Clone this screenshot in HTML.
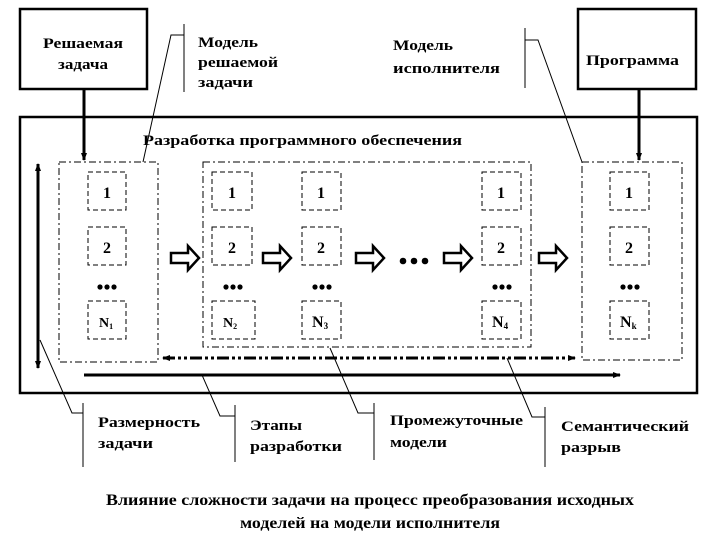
<!DOCTYPE html>
<html><head><meta charset="utf-8"><style>
html,body{margin:0;padding:0;background:#fff;}
svg{display:block;}
text{font-family:"Liberation Serif",serif;font-weight:bold;fill:#000;}
</style></head><body>
<svg width="720" height="540" viewBox="0 0 720 540" xmlns="http://www.w3.org/2000/svg">
<defs>
<marker id="ah" markerWidth="8" markerHeight="8" refX="7" refY="4" orient="auto" markerUnits="userSpaceOnUse"><path d="M0,1 L8,4 L0,7 Z" fill="#000"/></marker>
<marker id="ahs" markerWidth="8" markerHeight="8" refX="1" refY="4" orient="auto" markerUnits="userSpaceOnUse"><path d="M8,1 L0,4 L8,7 Z" fill="#000"/></marker>
</defs>
<!-- top boxes -->
<rect x="20" y="9" width="127" height="80" fill="none" stroke="#000" stroke-width="2.5"/>
<text x="83" y="48" font-size="15" text-anchor="middle" textLength="80" lengthAdjust="spacingAndGlyphs">Решаемая</text>
<text x="83" y="69" font-size="15" text-anchor="middle" textLength="50" lengthAdjust="spacingAndGlyphs">задача</text>
<rect x="578" y="9" width="118" height="80" fill="none" stroke="#000" stroke-width="2.5"/>
<text x="586" y="65" font-size="15" textLength="93" lengthAdjust="spacingAndGlyphs">Программа</text>
<line x1="84" y1="89" x2="84" y2="160" stroke="#000" stroke-width="3" marker-end="url(#ah)"/>
<line x1="639" y1="89" x2="639" y2="160" stroke="#000" stroke-width="3" marker-end="url(#ah)"/>

<!-- top labels -->
<line x1="184" y1="24" x2="184" y2="92" stroke="#000" stroke-width="1"/>
<polyline points="184,35 171,35 143,162" fill="none" stroke="#000" stroke-width="1"/>
<text x="198" y="47" font-size="15" textLength="60" lengthAdjust="spacingAndGlyphs">Модель</text>
<text x="198" y="67" font-size="15" textLength="80" lengthAdjust="spacingAndGlyphs">решаемой</text>
<text x="198" y="87" font-size="15" textLength="55" lengthAdjust="spacingAndGlyphs">задачи</text>
<line x1="525" y1="28" x2="525" y2="88" stroke="#000" stroke-width="1"/>
<polyline points="525,40 538,40 582,162" fill="none" stroke="#000" stroke-width="1"/>
<text x="393" y="50" font-size="15" textLength="60" lengthAdjust="spacingAndGlyphs">Модель</text>
<text x="393" y="73" font-size="15" textLength="107" lengthAdjust="spacingAndGlyphs">исполнителя</text>

<!-- outer box -->
<rect x="20" y="117" width="677" height="276" fill="none" stroke="#000" stroke-width="2.5"/>
<text x="143" y="145" font-size="15" textLength="319" lengthAdjust="spacingAndGlyphs">Разработка программного обеспечения</text>

<!-- groups -->
<g fill="none" stroke="#000" stroke-width="1" stroke-dasharray="7,3,2,3">
<rect x="59" y="162" width="99" height="200"/>
<rect x="203" y="162" width="328" height="185"/>
<rect x="582" y="162" width="100" height="198"/>
</g>
<g fill="none" stroke="#000" stroke-width="1" stroke-dasharray="5,3">
<rect x="88" y="172" width="38" height="38"/><rect x="88" y="227" width="38" height="38"/><rect x="88" y="301" width="38" height="38"/>
<rect x="212" y="172" width="40" height="38"/><rect x="212" y="227" width="40" height="38"/><rect x="212" y="301" width="43" height="38"/>
<rect x="302" y="172" width="39" height="38"/><rect x="302" y="227" width="39" height="38"/><rect x="302" y="301" width="39" height="38"/>
<rect x="482" y="172" width="39" height="38"/><rect x="482" y="227" width="39" height="38"/><rect x="482" y="301" width="39" height="38"/>
<rect x="610" y="172" width="39" height="38"/><rect x="610" y="227" width="39" height="38"/><rect x="610" y="301" width="39" height="38"/>
</g>
<g font-size="16" text-anchor="middle">
<text x="107" y="198">1</text><text x="107" y="253">2</text>
<text x="232" y="198">1</text><text x="232" y="253">2</text>
<text x="321" y="198">1</text><text x="321" y="253">2</text>
<text x="501" y="198">1</text><text x="501" y="253">2</text>
<text x="629" y="198">1</text><text x="629" y="253">2</text>
</g>
<g font-size="14">
<text x="99" y="327" font-weight="normal">N<tspan font-size="8" dy="2">1</tspan></text>
<text x="223" y="327" font-weight="normal">N<tspan font-size="8" dy="2">2</tspan></text>
<text x="312" y="327" font-size="16">N<tspan font-size="9" dy="2">3</tspan></text>
<text x="492" y="327" font-size="16">N<tspan font-size="9" dy="2">4</tspan></text>
<text x="620" y="327" font-size="16">N<tspan font-size="9" dy="2">k</tspan></text>
</g>
<g fill="#000">
<circle cx="100" cy="287" r="2.6"/><circle cx="107" cy="287" r="2.6"/><circle cx="114" cy="287" r="2.6"/>
<circle cx="226" cy="287" r="2.6"/><circle cx="233" cy="287" r="2.6"/><circle cx="240" cy="287" r="2.6"/>
<circle cx="315" cy="287" r="2.6"/><circle cx="322" cy="287" r="2.6"/><circle cx="329" cy="287" r="2.6"/>
<circle cx="495" cy="287" r="2.6"/><circle cx="502" cy="287" r="2.6"/><circle cx="509" cy="287" r="2.6"/>
<circle cx="623" cy="287" r="2.6"/><circle cx="630" cy="287" r="2.6"/><circle cx="637" cy="287" r="2.6"/>
<circle cx="403" cy="261" r="3.3"/><circle cx="414" cy="261" r="3.3"/><circle cx="425" cy="261" r="3.3"/>
</g>
<!-- hollow arrows -->
<g fill="#fff" stroke="#000" stroke-width="2.5">
<path d="M171,253 h17 v-7 l11,12 l-11,12 v-7 h-17 z"/>
<path d="M263,253 h17 v-7 l11,12 l-11,12 v-7 h-17 z"/>
<path d="M356,253 h17 v-7 l11,12 l-11,12 v-7 h-17 z"/>
<path d="M444,253 h17 v-7 l11,12 l-11,12 v-7 h-17 z"/>
<path d="M539,253 h17 v-7 l11,12 l-11,12 v-7 h-17 z"/>
</g>
<!-- axis arrows -->
<line x1="38" y1="164" x2="38" y2="368" stroke="#000" stroke-width="3" marker-start="url(#ahs)" marker-end="url(#ah)"/>
<line x1="84" y1="375" x2="620" y2="375" stroke="#000" stroke-width="3" marker-end="url(#ah)"/>
<line x1="163" y1="358" x2="575" y2="358" stroke="#000" stroke-width="3" stroke-dasharray="12,3,3,3,3,3" marker-start="url(#ahs)" marker-end="url(#ah)"/>

<!-- bottom labels -->
<g stroke="#000" stroke-width="1" fill="none">
<line x1="83" y1="403" x2="83" y2="467"/><polyline points="83,413 72,413 40,340"/>
<line x1="235" y1="405" x2="235" y2="462"/><polyline points="235,416 220,416 202,375"/>
<line x1="374" y1="403" x2="374" y2="460"/><polyline points="374,413 358,413 330,348"/>
<line x1="545" y1="407" x2="545" y2="467"/><polyline points="545,417 532,417 507,358"/>
</g>
<g font-size="15">
<text x="98" y="427" textLength="102" lengthAdjust="spacingAndGlyphs">Размерность</text>
<text x="98" y="448" textLength="55" lengthAdjust="spacingAndGlyphs">задачи</text>
<text x="250" y="430" textLength="52" lengthAdjust="spacingAndGlyphs">Этапы</text>
<text x="250" y="451" textLength="92" lengthAdjust="spacingAndGlyphs">разработки</text>
<text x="390" y="425" textLength="133" lengthAdjust="spacingAndGlyphs">Промежуточные</text>
<text x="390" y="447" textLength="57" lengthAdjust="spacingAndGlyphs">модели</text>
<text x="561" y="431" textLength="128" lengthAdjust="spacingAndGlyphs">Семантический</text>
<text x="561" y="452" textLength="60" lengthAdjust="spacingAndGlyphs">разрыв</text>
</g>
<text x="106" y="505" font-size="16" textLength="528" lengthAdjust="spacingAndGlyphs">Влияние сложности задачи на процесс преобразования исходных</text>
<text x="240" y="528" font-size="16" textLength="260" lengthAdjust="spacingAndGlyphs">моделей на модели исполнителя</text>
</svg>
</body></html>
